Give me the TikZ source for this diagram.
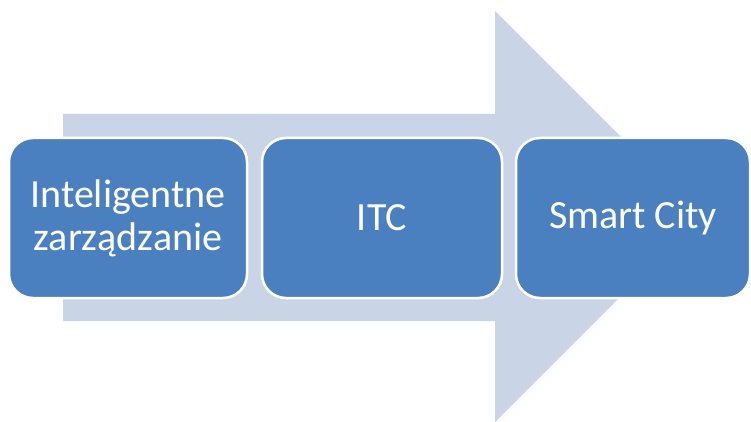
\documentclass[tikz,border=0pt]{standalone}
\usepackage{fontspec}
\setmainfont{Carlito}
\definecolor{boxblue}{HTML}{4A80C0}
\definecolor{arrowgray}{HTML}{C9D5E7}
\begin{document}
\begin{tikzpicture}[x=1pt,y=-1pt,
  stage/.style={draw=white, line width=2.5pt, fill=boxblue, rounded corners=24pt,
    text=white, font=\fontsize{40}{43}\selectfont, align=center, inner sep=0pt,
    minimum height=160pt}]
\useasboundingbox (0,0) rectangle (751,422);
% wide background arrow pointing right
\fill[arrowgray] (63,114) -- (495,114) -- (495,11) -- (700.5,216.5)
  -- (495,422) -- (495,321) -- (63,321) -- cycle;
% the three stages
\node[stage, minimum width=238pt] (s1) at (128,218) {Inteligentne\\zarządzanie};
\node[stage, minimum width=240pt] (s2) at (382,218) {ITC};
\node[stage, minimum width=234pt] (s3) at (633,218) {Smart City};
\end{tikzpicture}
\end{document}
